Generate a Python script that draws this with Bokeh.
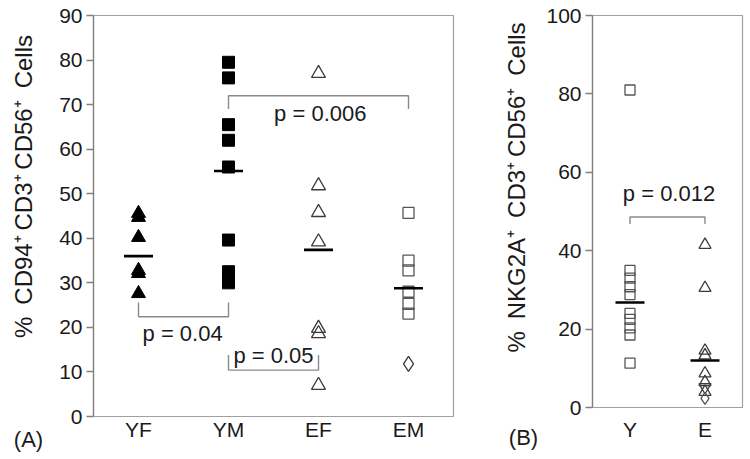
from bokeh.plotting import figure
from bokeh.layouts import row, column
from bokeh.models import Range1d, FixedTicker
from bokeh.embed import file_html
from bokeh.resources import INLINE
from bokeh.core.properties import value

FONT = "Liberation Sans"
TXT = "#1a1a1a"
H = 455

# ---------------- Panel A data ----------------
cats_a = ["YF", "YM", "EF", "EM"]
yf_vals = [45.6, 44.7, 40.2, 32.8, 32.1, 27.6]
ym_vals = [79.5, 76.0, 65.5, 62.0, 56.0, 39.6, 32.5, 30.0]
ef_vals = [77.0, 51.8, 45.8, 39.2, 19.8, 18.6, 7.0]
em_sq_vals = [45.7, 35.0, 32.8, 28.0, 25.3, 23.1]
em_dia_vals = [11.8]
means_a = [36.0, 55.1, 37.4, 28.8]
yticks_a = [0, 10, 20, 30, 40, 50, 60, 70, 80, 90]

# brackets: (from group, to group, bar y, tip y)
brackets_a = [("YF", "YM", 22.4, 25.6), ("YM", "EM", 72.0, 69.0), ("YM", "EF", 10.4, 13.8)]
pvals_a = ["p = 0.04", "p = 0.006", "p = 0.05"]
pval_pos_a = [(1.49, 18.6), (3.02, 68.0), (2.5, 13.7)]
ylabel_a = "%\u2002CD94\u207a\u2009CD3\u207a\u2009CD56\u207a\u2002Cells"

# ---------------- Panel B data ----------------
cats_b = ["Y", "E"]
y_vals = [81.0, 35.0, 33.0, 30.8, 28.8, 24.0, 22.5, 20.3, 18.5, 11.3]
e_tri_vals = [41.5, 30.5, 14.5, 13.3, 8.7, 6.5, 4.0]
e_inv_vals = [5.2]
e_dia_vals = [2.3]
means_b = [26.8, 12.0]
yticks_b = [0, 20, 40, 60, 80, 100]
brackets_b = [("Y", "E", 48.6, 46.8)]
pvals_b = ["p = 0.012"]
pval_pos_b = [(1.52, 54.6)]
ylabel_b = "%\u2002NKG2A\u207a\u2002CD3\u207a\u2009CD56\u207a\u2002Cells"


def pos(cats, c):
    return cats.index(c) + 1


def style(p, yticks, cats, xstandoff):
    p.grid.visible = False
    p.outline_line_color = "#a0a0a0"
    p.outline_line_width = 1.2
    ya = p.yaxis[0]
    ya.ticker = FixedTicker(ticks=yticks)
    ya.major_tick_out = 7
    ya.major_tick_in = 0
    ya.minor_tick_line_color = None
    ya.axis_line_color = "#808080"
    ya.axis_line_width = 1.3
    ya.major_tick_line_color = "#808080"
    ya.major_tick_line_width = 1.3
    ya.major_label_text_font = FONT
    ya.major_label_text_font_size = "21px"
    ya.major_label_text_color = TXT
    ya.major_label_standoff = 4
    xa = p.xaxis[0]
    xa.ticker = FixedTicker(ticks=list(range(1, len(cats) + 1)))
    xa.major_label_overrides = {i + 1: c for i, c in enumerate(cats)}
    xa.major_tick_out = 0
    xa.major_tick_in = 0
    xa.minor_tick_line_color = None
    xa.axis_line_color = "#a0a0a0"
    xa.axis_line_width = 1.2
    xa.major_label_text_font = FONT
    xa.major_label_text_font_size = "21px"
    xa.major_label_text_color = TXT
    xa.major_label_standoff = xstandoff


def add_text(p, xs, ys, texts, size, angle=0.0):
    p.text(x=xs, y=ys, text=texts, angle=angle,
           text_font=value(FONT), text_font_size=size, text_color=TXT,
           text_align="center", text_baseline="middle")


def add_brackets(p, cats, brackets, pvals, pvpos):
    for (a, b, ybar, ytip), txt, (tx, ty) in zip(brackets, pvals, pvpos):
        xa_, xb_ = pos(cats, a), pos(cats, b)
        p.line([xa_, xa_, xb_, xb_], [ytip, ybar, ybar, ytip],
               line_color="#8a8a8a", line_width=1.4)
        add_text(p, [tx], [ty], [txt], "22px")


def label_fig(width):
    f = figure(width=width, height=H, x_range=Range1d(0, width), y_range=Range1d(0, H),
               output_backend="svg", toolbar_location=None,
               x_axis_location=None, y_axis_location=None,
               min_border_left=0, min_border_right=0, min_border_top=0, min_border_bottom=0)
    f.grid.visible = False
    f.outline_line_color = None
    return f


# ---------------- label strip A ----------------
la = label_fig(56)
add_text(la, [23], [H - 186], [ylabel_a], "24px", angle=1.5707963)
add_text(la, [28], [H - 439], ["(A)"], "22px")

# ---------------- Figure A ----------------
p1 = figure(width=422, height=H, x_range=Range1d(0.5, 4.5), y_range=Range1d(0, 90),
            output_backend="svg", toolbar_location=None,
            min_border_left=37, min_border_right=25, min_border_top=15, min_border_bottom=H - 416)
style(p1, yticks_a, cats_a, 1)

p1.scatter([pos(cats_a, "YF")] * len(yf_vals), yf_vals, marker="triangle", size=14,
           fill_color="black", line_color="black")
p1.scatter([pos(cats_a, "YM")] * len(ym_vals), ym_vals, marker="square", size=12,
           fill_color="black", line_color="black")
p1.scatter([pos(cats_a, "EF")] * len(ef_vals), ef_vals, marker="triangle", size=14,
           fill_color=None, line_color="#3a3a3a", line_width=1.3)
p1.scatter([pos(cats_a, "EM")] * len(em_sq_vals), em_sq_vals, marker="square", size=11,
           fill_color=None, line_color="#555555", line_width=1.3)
p1.scatter([pos(cats_a, "EM")] * len(em_dia_vals), em_dia_vals, marker="diamond", size=15,
           fill_color=None, line_color="#3a3a3a", line_width=1.3)
p1.scatter([pos(cats_a, c) for c in cats_a], means_a, marker="dash", size=29,
           line_color="black", line_width=2.6)
add_brackets(p1, cats_a, brackets_a, pvals_a, pval_pos_a)

# ---------------- label strip B ----------------
lb = label_fig(65)
add_text(lb, [38], [H - 187], [ylabel_b], "24px", angle=1.5707963)
add_text(lb, [45], [H - 437], ["(B)"], "22px")

# ---------------- Figure B ----------------
p2 = figure(width=207, height=H, x_range=Range1d(0.5, 2.5), y_range=Range1d(0, 100),
            output_backend="svg", toolbar_location=None,
            min_border_left=45, min_border_right=8, min_border_top=15, min_border_bottom=H - 407)
style(p2, yticks_b, cats_b, 10)

p2.scatter([pos(cats_b, "Y")] * len(y_vals), y_vals, marker="square", size=10,
           fill_color=None, line_color="#555555", line_width=1.3)
p2.scatter([pos(cats_b, "E")] * len(e_tri_vals), e_tri_vals, marker="triangle", size=12,
           fill_color=None, line_color="#3a3a3a", line_width=1.3)
p2.scatter([pos(cats_b, "E")] * len(e_inv_vals), e_inv_vals, marker="inverted_triangle", size=12,
           fill_color=None, line_color="#3a3a3a", line_width=1.3)
p2.scatter([pos(cats_b, "E")] * len(e_dia_vals), e_dia_vals, marker="diamond", size=12,
           fill_color=None, line_color="#555555", line_width=1.3)
p2.scatter([pos(cats_b, c) for c in cats_b], means_b, marker="dash", size=29,
           line_color="black", line_width=2.6)
add_brackets(p2, cats_b, brackets_b, pvals_b, pval_pos_b)

layout = row(column(la), column(p1), column(lb), column(p2))
open("out.html", "w").write(file_html(layout, INLINE))
